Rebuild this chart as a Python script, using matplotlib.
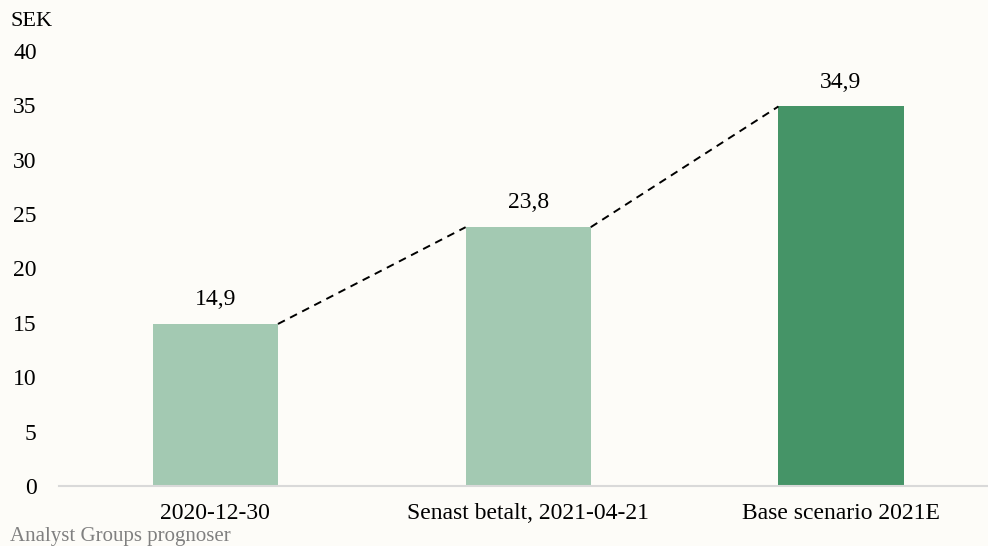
import matplotlib.pyplot as plt

# data
categories = ["2020-12-30", "Senast betalt, 2021-04-21", "Base scenario 2021E"]
values = [14.9, 23.8, 34.9]
value_labels = ["14,9", "23,8", "34,9"]
yticks = [0, 5, 10, 15, 20, 25, 30, 35, 40]

light_green = "#A3C9B2"
dark_green = "#459467"
bg = "#FDFCF8"
bar_colors = [light_green, light_green, dark_green]

plt.rcParams["font.family"] = ["Liberation Serif", "DejaVu Serif"]

fig = plt.figure(figsize=(9.88, 5.46), dpi=100, facecolor=bg)
ax = fig.add_axes([59 / 988, 60 / 546, 929 / 988, 435 / 546])
ax.set_facecolor(bg)

width = 0.4
x = list(range(len(categories)))
ax.bar(x, values, width=width, color=bar_colors, zorder=2)

# value labels above bars
for xi, v, lab in zip(x, values, value_labels):
    ax.annotate(lab, (xi, v), xytext=(0, 10), textcoords="offset points",
                ha="center", va="bottom", fontsize=17)

# dashed connectors from top-right of one bar to top-left of the next
for i in range(len(values) - 1):
    ax.plot([x[i] + width / 2, x[i + 1] - width / 2], [values[i], values[i + 1]],
            color="black", linestyle=(0, (4, 3)), linewidth=1.4, zorder=3)

ax.set_xlim(-0.5, 2.47)
ax.set_ylim(0, 40)
ax.set_yticks(yticks)
ax.set_yticklabels([str(t) for t in yticks])
ax.set_xticks(x)
ax.set_xticklabels(categories)
ax.tick_params(axis="y", length=0, pad=16, labelsize=17)
ax.tick_params(axis="x", length=0, pad=12, labelsize=17)

for s in ["top", "right", "left"]:
    ax.spines[s].set_visible(False)
ax.spines["bottom"].set_color("#D9D9D9")
ax.spines["bottom"].set_linewidth(1.5)

fig.text(10 / 988, 1 - 22 / 546, "SEK", fontsize=16, ha="left", va="center")
fig.text(10 / 988, 1 - 537 / 546, "Analyst Groups prognoser", fontsize=15,
         color="#808080", ha="left", va="center")

fig.savefig("out.png", dpi=100, facecolor=bg)
